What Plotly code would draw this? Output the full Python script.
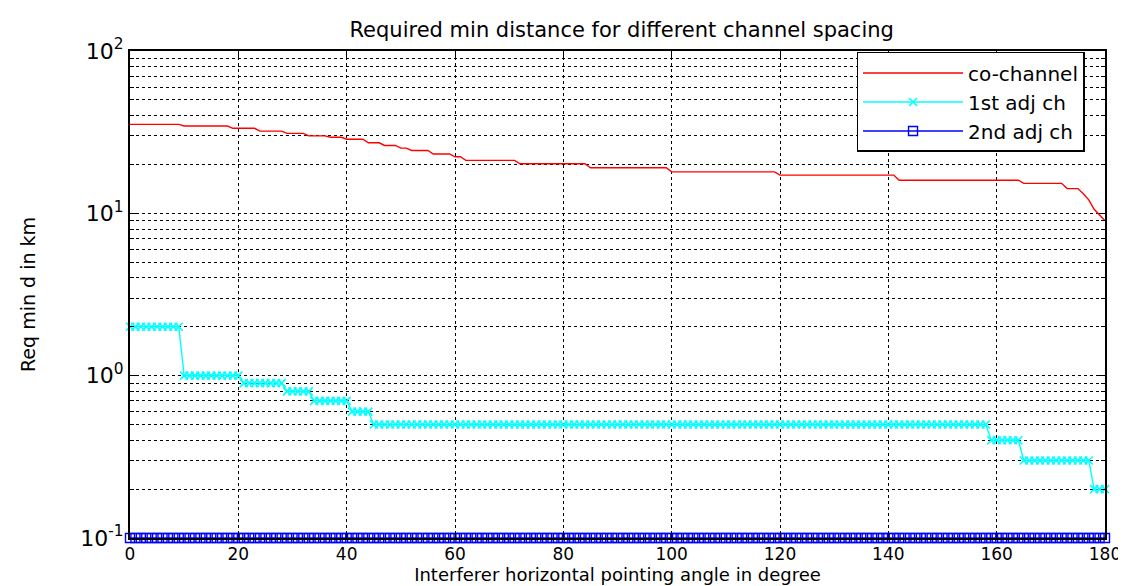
import plotly.graph_objects as go

# ---- data ----
angles = list(range(0, 181))

# co-channel: step levels (start_deg, end_deg, value)
co_steps = [
    (0, 9, 35.3), (10, 18, 34.5), (19, 23, 33.4), (24, 28, 32.1),
    (29, 32, 31.1), (33, 36, 30.0), (37, 39, 29.4), (40, 43, 28.6),
    (44, 46, 27.2), (47, 49, 26.2), (50, 51, 25.2), (52, 55, 24.4),
    (56, 59, 23.2), (60, 61, 22.3), (62, 71, 21.2), (72, 84, 20.2),
    (85, 99, 19.1), (100, 119, 18.0), (120, 141, 17.2), (142, 164, 16.0),
    (165, 172, 15.3), (173, 175, 14.2), (176, 176, 13.2), (177, 177, 12.1),
    (178, 178, 10.6), (179, 179, 9.8), (180, 180, 9.0),
]
adj1_steps = [
    (0, 9, 2.0), (10, 20, 1.0), (21, 28, 0.9), (29, 33, 0.8),
    (34, 40, 0.7), (41, 44, 0.6), (45, 158, 0.5), (159, 164, 0.4),
    (165, 177, 0.3), (178, 180, 0.2),
]
adj2_level = 0.1

def expand(steps):
    out = []
    for a in angles:
        for s, e, v in steps:
            if s <= a <= e:
                out.append(v)
                break
    return out

co_channel = expand(co_steps)
adj1 = expand(adj1_steps)
adj2 = [adj2_level] * len(angles)

x_ticks = list(range(0, 181, 20))
y_decades = [-1, 0, 1, 2]
y_tickvals = [10 ** k for k in y_decades]
y_ticktext = [f"10<sup>{k}</sup>" for k in y_decades]

FONT = "DejaVu Sans, Liberation Sans, Arial, sans-serif"

fig = go.Figure()
fig.add_trace(go.Scatter(
    x=angles, y=co_channel, mode="lines", name="co-channel",
    line=dict(color="rgb(255,0,0)", width=1.4),
))
fig.add_trace(go.Scatter(
    x=angles, y=adj1, mode="lines+markers", name="1st adj ch",
    line=dict(color="rgb(0,255,255)", width=1.4),
    marker=dict(symbol="x-thin", size=8, line=dict(color="rgb(0,255,255)", width=1.6)),
    cliponaxis=False,
))
fig.add_trace(go.Scatter(
    x=angles, y=adj2, mode="lines+markers", name="2nd adj ch",
    line=dict(color="rgb(0,0,255)", width=1.4),
    marker=dict(symbol="square-open", size=9, color="rgb(0,0,255)",
                line=dict(color="rgb(0,0,255)", width=1.4)),
    cliponaxis=False,
))

fig.update_layout(
    width=1126, height=586,
    paper_bgcolor="white", plot_bgcolor="white",
    margin=dict(l=122, r=29, t=43, b=56),
    font=dict(family=FONT, size=18, color="black"),
    title=dict(text="Required min distance for different channel spacing",
               x=0.545, xanchor="center", y=0.963, yanchor="middle",
               font=dict(family=FONT, size=21, color="black")),
    showlegend=True,
    legend=dict(x=0.979, y=0.998, xanchor="right", yanchor="top",
                bgcolor="white", bordercolor="black", borderwidth=1.5,
                font=dict(family=FONT, size=20, color="black"),
                itemwidth=100, tracegroupgap=0),
)
fig.update_xaxes(
    range=[0, 180], tickvals=x_ticks, ticktext=[str(t) for t in x_ticks],
    showline=True, linecolor="black", linewidth=2, mirror="ticks",
    ticks="inside", ticklen=6, tickcolor="black",
    showgrid=True, gridcolor="black", griddash="dot", gridwidth=1,
    zeroline=False,
    tickfont=dict(family=FONT, size=17, color="black"),
    title=dict(text="Interferer horizontal pointing angle in degree",
               font=dict(family=FONT, size=18, color="black"), standoff=0),
)
fig.update_yaxes(
    type="log", range=[-1, 2], tickmode="array",
    tickvals=y_tickvals, ticktext=y_ticktext,
    showline=True, linecolor="black", linewidth=2, mirror="ticks",
    ticks="inside", ticklen=6, tickcolor="black",
    showgrid=True, gridcolor="black", griddash="dot", gridwidth=1,
    minor=dict(dtick="D1", tickmode="linear", showgrid=True, gridcolor="black",
               griddash="dot", gridwidth=1, ticks="inside", ticklen=4,
               tickcolor="black"),
    zeroline=False,
    tickfont=dict(family=FONT, size=22, color="black"),
    title=dict(text="Req min d in km",
               font=dict(family=FONT, size=19, color="black"), standoff=40),
)

fig.write_html("out.html")
